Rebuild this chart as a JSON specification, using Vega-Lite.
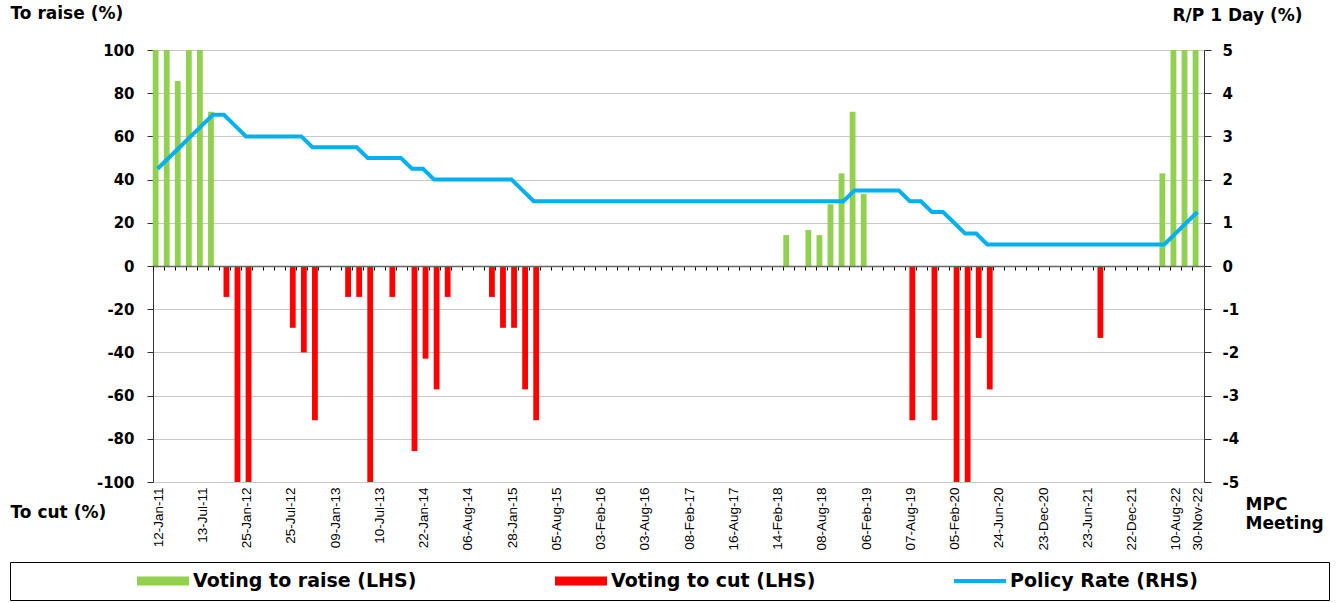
{
  "$schema": "https://vega.github.io/schema/vega-lite/v6.json",
  "width": 1051,
  "height": 432,
  "autosize": {"type": "none"},
  "padding": {"left": 153, "top": 50, "right": 139, "bottom": 121},
  "background": "white",
  "config": {"view": {"stroke": null}, "axis": {"labelColor": "black", "titleColor": "black"}},
  "data": {"values": [
    {"meeting": "12-Jan-11", "raise": 100, "cut": 0, "rate": 2.25},
    {"meeting": "09-Mar-11", "raise": 100, "cut": 0, "rate": 2.5},
    {"meeting": "20-Apr-11", "raise": 85.7, "cut": 0, "rate": 2.75},
    {"meeting": "01-Jun-11", "raise": 100, "cut": 0, "rate": 3.0},
    {"meeting": "13-Jul-11", "raise": 100, "cut": 0, "rate": 3.25},
    {"meeting": "24-Aug-11", "raise": 71.4, "cut": 0, "rate": 3.5},
    {"meeting": "19-Oct-11", "raise": 0, "cut": -14.3, "rate": 3.5},
    {"meeting": "30-Nov-11", "raise": 0, "cut": -100, "rate": 3.25},
    {"meeting": "25-Jan-12", "raise": 0, "cut": -100, "rate": 3.0},
    {"meeting": "07-Mar-12", "raise": 0, "cut": 0, "rate": 3.0},
    {"meeting": "25-Apr-12", "raise": 0, "cut": 0, "rate": 3.0},
    {"meeting": "13-Jun-12", "raise": 0, "cut": 0, "rate": 3.0},
    {"meeting": "25-Jul-12", "raise": 0, "cut": -28.6, "rate": 3.0},
    {"meeting": "12-Sep-12", "raise": 0, "cut": -40, "rate": 3.0},
    {"meeting": "17-Oct-12", "raise": 0, "cut": -71.4, "rate": 2.75},
    {"meeting": "28-Nov-12", "raise": 0, "cut": 0, "rate": 2.75},
    {"meeting": "09-Jan-13", "raise": 0, "cut": 0, "rate": 2.75},
    {"meeting": "20-Feb-13", "raise": 0, "cut": -14.3, "rate": 2.75},
    {"meeting": "03-Apr-13", "raise": 0, "cut": -14.3, "rate": 2.75},
    {"meeting": "29-May-13", "raise": 0, "cut": -100, "rate": 2.5},
    {"meeting": "10-Jul-13", "raise": 0, "cut": 0, "rate": 2.5},
    {"meeting": "21-Aug-13", "raise": 0, "cut": -14.3, "rate": 2.5},
    {"meeting": "16-Oct-13", "raise": 0, "cut": 0, "rate": 2.5},
    {"meeting": "27-Nov-13", "raise": 0, "cut": -85.7, "rate": 2.25},
    {"meeting": "22-Jan-14", "raise": 0, "cut": -42.9, "rate": 2.25},
    {"meeting": "12-Mar-14", "raise": 0, "cut": -57.1, "rate": 2.0},
    {"meeting": "30-Apr-14", "raise": 0, "cut": -14.3, "rate": 2.0},
    {"meeting": "18-Jun-14", "raise": 0, "cut": 0, "rate": 2.0},
    {"meeting": "06-Aug-14", "raise": 0, "cut": 0, "rate": 2.0},
    {"meeting": "17-Sep-14", "raise": 0, "cut": 0, "rate": 2.0},
    {"meeting": "29-Oct-14", "raise": 0, "cut": -14.3, "rate": 2.0},
    {"meeting": "17-Dec-14", "raise": 0, "cut": -28.6, "rate": 2.0},
    {"meeting": "28-Jan-15", "raise": 0, "cut": -28.6, "rate": 2.0},
    {"meeting": "11-Mar-15", "raise": 0, "cut": -57.1, "rate": 1.75},
    {"meeting": "29-Apr-15", "raise": 0, "cut": -71.4, "rate": 1.5},
    {"meeting": "10-Jun-15", "raise": 0, "cut": 0, "rate": 1.5},
    {"meeting": "05-Aug-15", "raise": 0, "cut": 0, "rate": 1.5},
    {"meeting": "16-Sep-15", "raise": 0, "cut": 0, "rate": 1.5},
    {"meeting": "04-Nov-15", "raise": 0, "cut": 0, "rate": 1.5},
    {"meeting": "16-Dec-15", "raise": 0, "cut": 0, "rate": 1.5},
    {"meeting": "03-Feb-16", "raise": 0, "cut": 0, "rate": 1.5},
    {"meeting": "23-Mar-16", "raise": 0, "cut": 0, "rate": 1.5},
    {"meeting": "11-May-16", "raise": 0, "cut": 0, "rate": 1.5},
    {"meeting": "22-Jun-16", "raise": 0, "cut": 0, "rate": 1.5},
    {"meeting": "03-Aug-16", "raise": 0, "cut": 0, "rate": 1.5},
    {"meeting": "14-Sep-16", "raise": 0, "cut": 0, "rate": 1.5},
    {"meeting": "02-Nov-16", "raise": 0, "cut": 0, "rate": 1.5},
    {"meeting": "21-Dec-16", "raise": 0, "cut": 0, "rate": 1.5},
    {"meeting": "08-Feb-17", "raise": 0, "cut": 0, "rate": 1.5},
    {"meeting": "29-Mar-17", "raise": 0, "cut": 0, "rate": 1.5},
    {"meeting": "17-May-17", "raise": 0, "cut": 0, "rate": 1.5},
    {"meeting": "05-Jul-17", "raise": 0, "cut": 0, "rate": 1.5},
    {"meeting": "16-Aug-17", "raise": 0, "cut": 0, "rate": 1.5},
    {"meeting": "27-Sep-17", "raise": 0, "cut": 0, "rate": 1.5},
    {"meeting": "08-Nov-17", "raise": 0, "cut": 0, "rate": 1.5},
    {"meeting": "20-Dec-17", "raise": 0, "cut": 0, "rate": 1.5},
    {"meeting": "14-Feb-18", "raise": 0, "cut": 0, "rate": 1.5},
    {"meeting": "28-Mar-18", "raise": 14.3, "cut": 0, "rate": 1.5},
    {"meeting": "16-May-18", "raise": 0, "cut": 0, "rate": 1.5},
    {"meeting": "27-Jun-18", "raise": 16.7, "cut": 0, "rate": 1.5},
    {"meeting": "08-Aug-18", "raise": 14.3, "cut": 0, "rate": 1.5},
    {"meeting": "19-Sep-18", "raise": 28.6, "cut": 0, "rate": 1.5},
    {"meeting": "14-Nov-18", "raise": 42.9, "cut": 0, "rate": 1.5},
    {"meeting": "19-Dec-18", "raise": 71.4, "cut": 0, "rate": 1.75},
    {"meeting": "06-Feb-19", "raise": 33.3, "cut": 0, "rate": 1.75},
    {"meeting": "20-Mar-19", "raise": 0, "cut": 0, "rate": 1.75},
    {"meeting": "08-May-19", "raise": 0, "cut": 0, "rate": 1.75},
    {"meeting": "26-Jun-19", "raise": 0, "cut": 0, "rate": 1.75},
    {"meeting": "07-Aug-19", "raise": 0, "cut": -71.4, "rate": 1.5},
    {"meeting": "25-Sep-19", "raise": 0, "cut": 0, "rate": 1.5},
    {"meeting": "06-Nov-19", "raise": 0, "cut": -71.4, "rate": 1.25},
    {"meeting": "18-Dec-19", "raise": 0, "cut": 0, "rate": 1.25},
    {"meeting": "05-Feb-20", "raise": 0, "cut": -100, "rate": 1.0},
    {"meeting": "20-Mar-20", "raise": 0, "cut": -100, "rate": 0.75},
    {"meeting": "08-Apr-20", "raise": 0, "cut": -33.3, "rate": 0.75},
    {"meeting": "20-May-20", "raise": 0, "cut": -57.1, "rate": 0.5},
    {"meeting": "24-Jun-20", "raise": 0, "cut": 0, "rate": 0.5},
    {"meeting": "05-Aug-20", "raise": 0, "cut": 0, "rate": 0.5},
    {"meeting": "23-Sep-20", "raise": 0, "cut": 0, "rate": 0.5},
    {"meeting": "18-Nov-20", "raise": 0, "cut": 0, "rate": 0.5},
    {"meeting": "23-Dec-20", "raise": 0, "cut": 0, "rate": 0.5},
    {"meeting": "03-Feb-21", "raise": 0, "cut": 0, "rate": 0.5},
    {"meeting": "24-Mar-21", "raise": 0, "cut": 0, "rate": 0.5},
    {"meeting": "05-May-21", "raise": 0, "cut": 0, "rate": 0.5},
    {"meeting": "23-Jun-21", "raise": 0, "cut": 0, "rate": 0.5},
    {"meeting": "04-Aug-21", "raise": 0, "cut": -33.3, "rate": 0.5},
    {"meeting": "29-Sep-21", "raise": 0, "cut": 0, "rate": 0.5},
    {"meeting": "10-Nov-21", "raise": 0, "cut": 0, "rate": 0.5},
    {"meeting": "22-Dec-21", "raise": 0, "cut": 0, "rate": 0.5},
    {"meeting": "09-Feb-22", "raise": 0, "cut": 0, "rate": 0.5},
    {"meeting": "30-Mar-22", "raise": 0, "cut": 0, "rate": 0.5},
    {"meeting": "08-Jun-22", "raise": 42.9, "cut": 0, "rate": 0.5},
    {"meeting": "10-Aug-22", "raise": 100, "cut": 0, "rate": 0.75},
    {"meeting": "28-Sep-22", "raise": 100, "cut": 0, "rate": 1.0},
    {"meeting": "30-Nov-22", "raise": 100, "cut": 0, "rate": 1.25}
  ]},
  "layer": [
    {
      "encoding": {
        "x": {
          "field": "meeting", "type": "ordinal", "sort": null,
          "scale": {"type": "band", "paddingInner": 0, "paddingOuter": 0},
          "axis": {
            "values": ["12-Jan-11", "13-Jul-11", "25-Jan-12", "25-Jul-12", "09-Jan-13", "10-Jul-13", "22-Jan-14", "06-Aug-14", "28-Jan-15", "05-Aug-15", "03-Feb-16", "03-Aug-16", "08-Feb-17", "16-Aug-17", "14-Feb-18", "08-Aug-18", "06-Feb-19", "07-Aug-19", "05-Feb-20", "24-Jun-20", "23-Dec-20", "23-Jun-21", "22-Dec-21", "10-Aug-22", "30-Nov-22"],
            "labelAngle": -90, "labelFont": "Liberation Sans", "labelFontSize": 13.5, "labelColor": "black",
            "labelPadding": 5, "ticks": false, "tickSize": 0, "domain": false, "grid": false, "labelOverlap": false,
            "title": ["MPC", "Meeting"], "titleFont": "DejaVu Sans", "titleFontWeight": "bold", "titleFontSize": 17,
            "titleAlign": "left", "titleBaseline": "top", "titleAngle": 0, "titleX": 1092, "titleY": 14, "titleLineHeight": 19
          }
        }
      },
      "layer": [
        {
          "mark": {"type": "bar", "width": 5.8, "xOffset": -2.9},
          "encoding": {
            "y": {
              "field": "raise", "type": "quantitative",
              "scale": {"domain": [-100, 100], "nice": false},
              "axis": {
                "values": [-100, -80, -60, -40, -20, 0, 20, 40, 60, 80, 100],
                "grid": true, "gridColor": "#c8c8c8", "gridWidth": 1,
                "domain": true, "domainColor": "#333333", "ticks": true, "tickColor": "#333333", "tickSize": 6,
                "labelFont": "DejaVu Sans", "labelFontWeight": "bold", "labelFontSize": 15, "labelPadding": 13,
                "labelExpr": "toString(datum.value)",
                "title": "To raise (%)", "titleFont": "DejaVu Sans", "titleFontWeight": "bold", "titleFontSize": 17,
                "titleAngle": 0, "titleAlign": "left", "titleBaseline": "middle", "titleX": -143, "titleY": -37
              }
            },
            "color": {
              "datum": "Voting to raise (LHS)",
              "scale": {"domain": ["Voting to raise (LHS)", "Voting to cut (LHS)", "Policy Rate (RHS)"], "range": ["#92D050", "#FF0000", "#00B0F0"]},
              "legend": {
                "orient": "none", "legendX": -143, "legendY": 512, "direction": "horizontal", "columns": 3,
                "title": " ", "titleOrient": "left", "titleFontSize": 1, "titlePadding": 118,
                "strokeColor": "black", "fillColor": "white", "padding": 9,
                "symbolSize": 400, "columnPadding": 138,
                "labelFont": "DejaVu Sans", "labelFontWeight": "bold", "labelFontSize": 19, "labelColor": "black",
                "labelOffset": 36, "labelLimit": 1000,
                "encode": {
                  "symbols": {
                    "update": {
                      "shape": {"signal": "datum.value == 'Policy Rate (RHS)' ? 'M-1,-0.2H4.2V0.2H-1Z M35.6,0' : 'M-1,-0.45H4.2V0.45H-1Z'"},
                      "fill": {"scale": "color", "field": "value"},
                      "stroke": {"value": "transparent"},
                      "strokeWidth": {"value": 0},
                      "opacity": {"value": 1},
                      "fillOpacity": {"value": 1}
                    }
                  }
                }
              }
            }
          }
        },
        {
          "mark": {"type": "bar", "width": 5.8, "xOffset": 1.5},
          "encoding": {
            "y": {
              "field": "cut", "type": "quantitative",
              "scale": {"domain": [-100, 100], "nice": false},
              "axis": {
                "values": [-100, -80, -60, -40, -20, 0, 20, 40, 60, 80, 100],
                "grid": true, "gridColor": "#c8c8c8", "gridWidth": 1,
                "domain": true, "domainColor": "#333333", "ticks": true, "tickColor": "#333333", "tickSize": 6,
                "labelFont": "DejaVu Sans", "labelFontWeight": "bold", "labelFontSize": 15, "labelPadding": 13,
                "labelExpr": "toString(datum.value)",
                "title": "To raise (%)", "titleFont": "DejaVu Sans", "titleFontWeight": "bold", "titleFontSize": 17,
                "titleAngle": 0, "titleAlign": "left", "titleBaseline": "middle", "titleX": -143, "titleY": -37
              }
            },
            "color": {"datum": "Voting to cut (LHS)"}
          }
        }
      ]
    },
    {
      "mark": {"type": "line", "strokeWidth": 4, "xOffset": -1},
      "encoding": {
        "x": {
          "field": "meeting", "type": "ordinal", "sort": null,
          "scale": {"type": "band", "paddingInner": 0, "paddingOuter": 0},
          "axis": {
            "orient": "bottom", "offset": -216, "labels": false, "ticks": true, "tickSize": 4, "tickColor": "#000000",
            "bandPosition": 0, "domain": true, "domainColor": "#666666", "domainWidth": 1.5, "grid": false, "zindex": 1,
            "title": "To cut (%)", "titleFont": "DejaVu Sans", "titleFontWeight": "bold", "titleFontSize": 17,
            "titleAngle": 0, "titleAlign": "left", "titleBaseline": "middle", "titleX": -143, "titleY": 246
          }
        },
        "y": {
          "field": "rate", "type": "quantitative",
          "scale": {"domain": [-5, 5], "nice": false},
          "axis": {
            "orient": "right", "values": [-5, -4, -3, -2, -1, 0, 1, 2, 3, 4, 5], "grid": false,
            "domain": true, "domainColor": "#333333", "ticks": true, "tickColor": "#333333", "tickSize": 7,
            "labelFont": "DejaVu Sans", "labelFontWeight": "bold", "labelFontSize": 15, "labelPadding": 11,
            "labelExpr": "toString(datum.value)",
            "title": "R/P 1 Day (%)", "titleFont": "DejaVu Sans", "titleFontWeight": "bold", "titleFontSize": 17,
            "titleAngle": 0, "titleAlign": "left", "titleBaseline": "middle", "titleX": -32, "titleY": -35
          }
        },
        "color": {"datum": "Policy Rate (RHS)"}
      }
    }
  ],
  "resolve": {"scale": {"y": "independent"}, "axis": {"x": "independent", "y": "independent"}}
}
